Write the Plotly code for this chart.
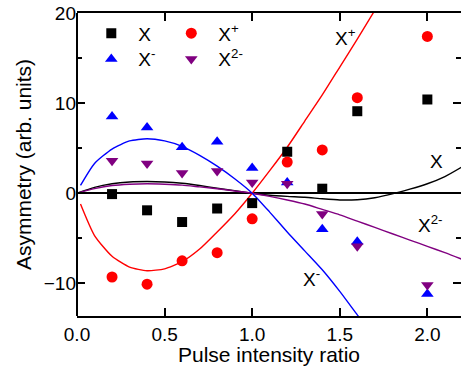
import plotly.graph_objects as go

# Measured asymmetry at each pulse intensity ratio
ratio = [0.2, 0.4, 0.6, 0.8, 1.0, 1.2, 1.4, 1.6, 2.0]
asym_x = [-0.1, -1.9, -3.2, -1.7, -1.1, 4.6, 0.5, 9.1, 10.4]
asym_xp = [-9.3, -10.1, -7.5, -6.6, -2.85, 3.45, 4.8, 10.6, 17.4]
asym_xm = [8.5, 7.3, 5.1, 5.7, 2.8, 1.2, -4.0, -5.4, -11.2]
asym_x2m = [3.6, 3.3, 2.25, 2.45, 1.2, 1.05, -2.3, -5.9, -10.2]

# Model curves
fit_x_ratio = [0.0, 0.1, 0.2, 0.3, 0.4, 0.5, 0.6, 0.7, 0.8, 0.9, 1.0, 1.1, 1.2,
               1.3, 1.4, 1.5, 1.6, 1.7, 1.8, 1.9, 2.0, 2.1, 2.2]
fit_x = [0.0, 0.65, 1.05, 1.25, 1.3, 1.25, 1.1, 0.85, 0.55, 0.28, 0.0, -0.22, -0.35,
         -0.45, -0.62, -0.75, -0.72, -0.5, -0.08, 0.45, 1.05, 1.85, 2.95]
fit_x2m = [0.0, 0.5, 0.85, 1.0, 1.05, 1.0, 0.9, 0.7, 0.5, 0.25, 0.0, -0.35, -0.75,
           -1.2, -1.8, -2.4, -3.1, -3.8, -4.5, -5.2, -5.9, -6.6, -7.35]

fit_xp_ratio = [0.02, 0.1, 0.2, 0.3, 0.4, 0.5, 0.6, 0.7, 0.8, 0.9, 1.0, 1.1, 1.2,
                1.3, 1.4, 1.5, 1.6, 1.7]
fit_xp = [-1.2, -4.7, -7.0, -8.2, -8.6, -8.4, -7.6, -6.2, -4.3, -2.3, 0.0, 2.5, 5.1,
          8.0, 10.9, 14.0, 17.1, 20.3]

fit_xm_ratio = [0.02, 0.1, 0.2, 0.3, 0.4, 0.5, 0.6, 0.7, 0.8, 0.9, 1.0, 1.1, 1.2,
                1.3, 1.4, 1.5, 1.6, 1.62]
fit_xm = [0.86, 3.3, 4.9, 5.8, 6.05, 5.8, 5.2, 4.2, 3.0, 1.6, 0.0, -2.1, -4.3,
          -6.4, -8.5, -10.9, -13.5, -14.0]

FONT = "Liberation Sans, Arial, sans-serif"
BLACK, RED, BLUE, PURPLE = "#000000", "#ff0000", "#0000ff", "#800080"

fig = go.Figure()

# fitted curves
for xs, ys, c in [(fit_x_ratio, fit_x, BLACK), (fit_x_ratio, fit_x2m, PURPLE),
                  (fit_xp_ratio, fit_xp, RED), (fit_xm_ratio, fit_xm, BLUE)]:
    fig.add_trace(go.Scatter(x=xs, y=ys, mode="lines", showlegend=False,
                             line=dict(color=c, width=1.4, shape="spline", smoothing=0.6)))

# measured points
fig.add_trace(go.Scatter(x=ratio, y=asym_x, mode="markers", name="X", legend="legend",
                         marker=dict(symbol="square", size=10, color=BLACK)))
fig.add_trace(go.Scatter(x=ratio, y=asym_xp, mode="markers", name="X<sup>+</sup>", legend="legend",
                         marker=dict(symbol="circle", size=11, color=RED)))
fig.add_trace(go.Scatter(x=ratio, y=asym_xm, mode="markers", name="X<sup>-</sup>", legend="legend2",
                         marker=dict(symbol="triangle-up", size=11, color=BLUE)))
fig.add_trace(go.Scatter(x=ratio, y=asym_x2m, mode="markers", name="X<sup>2-</sup>", legend="legend2",
                         marker=dict(symbol="triangle-down", size=11, color=PURPLE)))

labels = [(1.462, 17.3, "X<sup>+</sup>"), (2.006, 3.5, "X"),
          (1.937, -3.4, "X<sup>2-</sup>"), (1.281, -9.4, "X<sup>-</sup>")]
for lx, ly, t in labels:
    fig.add_annotation(x=lx, y=ly, text=t, showarrow=False, xanchor="left", yanchor="middle",
                       font=dict(family=FONT, size=19, color="black"))

# left axis line (the right side carries ticks only)
fig.add_shape(type="line", xref="paper", yref="paper", x0=0, x1=0, y0=0, y1=1,
              line=dict(color="black", width=2))

legend_style = dict(orientation="h", bgcolor="rgba(0,0,0,0)", borderwidth=0,
                    font=dict(family=FONT, size=19, color="black"),
                    itemwidth=44, entrywidth=21, entrywidthmode="pixels",
                    xanchor="left", yanchor="middle", itemclick=False)

fig.update_layout(
    width=461, height=366,
    margin=dict(l=77, r=0, t=13, b=50),
    paper_bgcolor="white", plot_bgcolor="white",
    font=dict(family=FONT, size=19, color="black"),
    legend=dict(x=0.019, y=0.933, **legend_style),
    legend2=dict(x=0.019, y=0.848, **legend_style),
    xaxis=dict(range=[0, 2.192], dtick=0.5, tick0=0, tickformat=".1f",
               ticks="inside", ticklen=8, tickwidth=1.5, tickcolor="black",
               showline=True, linewidth=2, linecolor="black", mirror="ticks",
               showgrid=False, zeroline=False,
               title=dict(text="Pulse intensity ratio", font=dict(size=21), standoff=8),
               tickfont=dict(size=19)),
    yaxis=dict(range=[-13.63, 20], dtick=10, tick0=0,
               ticks="inside", ticklen=8, tickwidth=1.5, tickcolor="black",
               minor=dict(dtick=5, tick0=0, ticks="inside", ticklen=5, tickwidth=1.5, tickcolor="black"),
               showline=False, mirror="ticks",
               showgrid=False, zeroline=True, zerolinecolor="black", zerolinewidth=2,
               title=dict(text="Asymmetry (arb. units)", font=dict(size=21), standoff=6),
               tickfont=dict(size=19)),
)

fig.write_html("out.html")
